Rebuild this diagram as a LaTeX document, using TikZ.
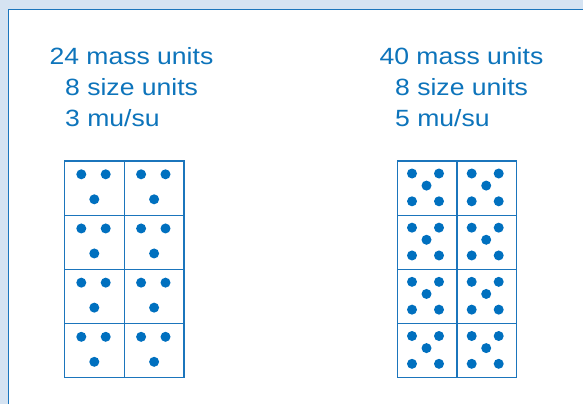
\documentclass[tikz,border=0pt]{standalone}
\usepackage{fontspec}
\setmainfont{Liberation Sans}[FakeStretch=1.13]
\definecolor{bgblue}{HTML}{D5E3F2}
\definecolor{frameblue}{HTML}{1B75BC}
\definecolor{txtblue}{HTML}{0D74BB}
\definecolor{dotblue}{HTML}{0070BF}
\begin{document}
\begin{tikzpicture}[x=1pt,y=-1pt,
  lbl/.style={anchor=base west,inner sep=0pt,text=txtblue,font=\fontsize{23.5}{27}\selectfont},
  gridline/.style={draw=frameblue,line width=1.1pt},
  dot/.style={fill=dotblue}]
\useasboundingbox (0,0) rectangle (583,404);
\fill[bgblue] (0,0) rectangle (583,404);
\fill[white] (8.3,9.5) rectangle (583,404);
\draw[frameblue,line width=1.6pt] (8.3,404) -- (8.3,9.5) -- (583,9.5);
% labels
\node[lbl] (l1) at (49.3,64.3) {24 mass units};
\node[lbl] (l2) at (65,95.7) {8 size units};
\node[lbl] (l3) at (65,126) {3 mu/su};
\node[lbl] (r1) at (379.3,64.3) {40 mass units};
\node[lbl] (r2) at (395,95.7) {8 size units};
\node[lbl] (r3) at (395,126) {5 mu/su};
% left grid
\foreach \k in {0,1,2,3}{
  \foreach \c/\cx in {0/64.5,1/124.3}{
    \pgfmathsetmacro{\ty}{161+\k*54.17}
    \fill[dot] (\cx+16.8,\ty+13.3) circle (5pt);
    \fill[dot] (\cx+41.2,\ty+13.3) circle (5pt);
    \fill[dot] (\cx+29.8,\ty+38.3) circle (5pt);
  }
}
\draw[gridline] (64.5,161) rectangle (184,377.7);
\draw[gridline] (124.3,161) -- (124.3,377.7);
\foreach \k in {1,2,3}{
  \draw[gridline] (64.5,161+\k*54.17) -- (184,161+\k*54.17);
}
% right grid
\foreach \k in {0,1,2,3}{
  \foreach \c/\cx in {0/397.3,1/457}{
    \pgfmathsetmacro{\ty}{161+\k*54.17}
    \fill[dot] (\cx+14.7,\ty+12.5) circle (5pt);
    \fill[dot] (\cx+41.7,\ty+12.5) circle (5pt);
    \fill[dot] (\cx+29.2,\ty+24.6) circle (5pt);
    \fill[dot] (\cx+14.7,\ty+40.3) circle (5pt);
    \fill[dot] (\cx+41.7,\ty+40.3) circle (5pt);
  }
}
\draw[gridline] (397.3,161) rectangle (516.7,377.7);
\draw[gridline] (457,161) -- (457,377.7);
\foreach \k in {1,2,3}{
  \draw[gridline] (397.3,161+\k*54.17) -- (516.7,161+\k*54.17);
}
\end{tikzpicture}
\end{document}
